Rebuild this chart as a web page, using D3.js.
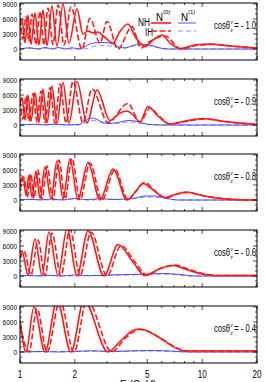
<!DOCTYPE html>
<html>
<head>
<meta charset="utf-8">
<script src="https://cdn.jsdelivr.net/npm/d3@7"></script>
<style>
  body { margin: 0; background: #fff; }
  text { font-family: "Liberation Sans Narrow", "Liberation Sans", sans-serif; fill: #000; }
</style>
</head>
<body>
<svg id="chart" width="266" height="382"></svg>
<script>
// cos(theta_z) of each panel
const cosLabels = ["- 1.0", "- 0.9", "- 0.8", "- 0.6", "- 0.4"];
const xTickLabels = [1, 2, 5, 10, 20];
const yTickLabels = [0, 3000, 6000, 9000];

// [E (GeV), events], panel by panel
// N(0) NH (red solid), N(0) IH (red dashed), N(1) NH (blue solid), N(1) IH (blue dashed)
const n0NH_10 = [[1.00,4500],[1.026,6000],[1.065,1200],[1.106,6800],[1.149,900],[1.209,7200],[1.271,800],[1.337,7800],[1.407,700],[1.498,8600],[1.596,600],[1.722,9000],[1.858,1200],[2.055,8000],[2.217,3000],[2.362,3600],[2.515,3200],[2.68,3400],[2.928,2300],[3.239,1200],[3.539,3500],[3.915,5000],[4.333,2200],[4.854,500],[5.37,1800],[6.017,2800],[6.657,1200],[7.553,100],[9.13,800],[11.04,1000],[14.21,600],[20,200]];
const n0IH_10 = [[1.00,6000],[1.039,2000],[1.079,6500],[1.12,1500],[1.164,7000],[1.224,900],[1.288,7500],[1.354,800],[1.424,8200],[1.517,900],[1.617,8800],[1.744,800],[1.905,8400],[2.189,0],[2.422,6100],[2.749,1200],[3.003,5500],[3.451,0],[4.119,4500],[4.615,200],[5.171,1500],[6.25,2600],[7.647,0],[9.25,700],[11.32,900],[14.58,600],[20,200]];
const n1NH_10 = [[1.00,0],[1.135,250],[1.255,0],[1.372,300],[1.498,0],[1.617,300],[1.766,0],[1.929,250],[2.135,0],[2.422,1000],[2.749,1300],[3.119,1200],[3.451,500],[3.77,200],[4.172,700],[4.557,1000],[5.171,800],[5.867,200],[6.491,0],[20,0]];
const n1IH_10 = [[1.00,0],[1.164,150],[1.288,0],[1.424,200],[1.556,0],[1.701,200],[1.881,0],[2.274,0],[2.58,600],[2.928,700],[3.322,400],[3.63,200],[4.172,600],[4.557,800],[5.171,600],[5.867,200],[6.491,0],[20,0]];

const n0NH_09 = [[1.00,4000],[1.026,5500],[1.065,1000],[1.106,6000],[1.149,700],[1.209,6500],[1.271,500],[1.337,7200],[1.407,400],[1.498,7800],[1.596,300],[1.722,8500],[1.858,400],[2.055,8700],[2.332,400],[2.646,7000],[3.119,900],[3.539,2400],[3.867,2800],[4.172,2000],[4.557,600],[5.041,3700],[5.648,2000],[6.657,200],[8.046,800],[10.1,1300],[13.34,700],[20,100]];
const n0IH_09 = [[1.00,5000],[1.039,1200],[1.079,5800],[1.12,800],[1.179,6300],[1.24,600],[1.304,6800],[1.372,500],[1.461,7500],[1.556,400],[1.658,8200],[1.789,400],[1.954,8700],[2.217,500],[2.484,7200],[3.041,500],[3.915,4300],[4.557,600],[5.171,3400],[5.72,2000],[6.657,200],[8.148,700],[10.36,1200],[13.34,700],[20,100]];
const n1NH_09 = [[1.00,0],[1.209,150],[1.372,0],[1.556,200],[1.766,0],[2.081,100],[2.245,600],[2.422,1400],[2.613,1200],[2.854,500],[3.119,300],[3.451,500],[3.915,900],[4.278,800],[4.674,400],[5.171,100],[6.25,0],[20,0]];
const n1IH_09 = [[1.00,0],[1.288,100],[1.461,0],[1.658,100],[2.081,0],[2.245,300],[2.422,900],[2.646,800],[2.928,300],[3.322,300],[3.915,600],[4.387,500],[5.041,100],[5.867,0],[20,0]];

const n0NH_08 = [[1.00,3000],[1.039,4800],[1.079,1000],[1.12,5000],[1.164,500],[1.224,5800],[1.288,300],[1.372,6600],[1.48,200],[1.596,7800],[1.722,200],[1.881,8200],[2.081,100],[2.362,7500],[2.749,0],[3.239,6200],[3.867,0],[4.278,1500],[4.733,3300],[5.303,2200],[6.25,500],[7.09,1100],[8.148,1600],[9.72,1000],[12.52,300],[18.3,0],[20,0]];
const n0IH_08 = [[1.00,2000],[1.052,4500],[1.092,500],[1.149,5200],[1.193,300],[1.255,6000],[1.32,200],[1.407,6800],[1.517,100],[1.637,8000],[1.766,200],[1.929,8300],[2.135,100],[2.422,7400],[2.818,0],[3.322,6100],[3.915,0],[4.333,1800],[4.854,3500],[5.439,2000],[6.33,400],[7.18,1100],[8.356,1500],[9.97,900],[12.84,300],[18.3,0],[20,0]];
const n1NH_08 = [[1.00,0],[1.135,150],[1.288,0],[1.461,200],[1.701,0],[2.004,300],[2.362,50],[2.749,300],[3.199,100],[3.77,200],[4.278,400],[4.854,800],[5.508,800],[6.25,400],[7.364,0],[20,0]];
const n1IH_08 = [[1.00,0],[1.209,100],[1.461,0],[2.004,200],[2.422,0],[2.928,200],[3.539,100],[4.278,300],[5.041,600],[5.867,500],[6.829,100],[8.046,0],[20,0]];

const n0NH_06 = [[1.00,4500],[1.026,5000],[1.106,200],[1.209,7400],[1.32,100],[1.443,8800],[1.617,100],[1.811,9500],[2.055,100],[2.362,9000],[2.891,0],[3.451,6300],[4.172,2800],[4.854,100],[5.867,1500],[6.915,2100],[8.046,1400],[9.72,500],[11.75,100],[20,100]];
const n0IH_06 = [[1.00,3500],[1.052,4900],[1.149,200],[1.255,7200],[1.372,100],[1.498,8600],[1.679,100],[1.881,9300],[2.135,100],[2.453,8800],[3.003,0],[3.584,6100],[4.278,2800],[4.977,200],[6.017,1600],[7.09,2200],[8.356,1400],[10.1,500],[12.21,100],[20,100]];
const n1NH_06 = [[1.00,0],[1.135,100],[1.288,0],[1.461,150],[1.658,0],[2.004,200],[2.422,50],[3.119,200],[4.016,300],[5.171,400],[6.25,500],[7.553,300],[9.13,0],[20,0]];
const n1IH_06 = [[1.00,0],[1.461,100],[1.881,0],[2.749,150],[4.016,200],[5.508,400],[6.829,300],[8.57,0],[20,0]];

const n0NH_04 = [[1.00,6500],[1.079,0],[1.193,9000],[1.372,0],[1.596,10300],[1.905,0],[2.245,10300],[3.041,0],[3.63,2500],[4.278,4500],[4.557,4600],[5.867,2800],[6.829,1200],[8.046,200],[11.04,200],[20,200]];
const n0IH_04 = [[1.00,5500],[1.12,0],[1.24,8700],[1.407,0],[1.658,10300],[1.979,0],[2.332,10300],[3.199,0],[3.77,2700],[4.557,4500],[6.017,2600],[7.0,1100],[8.25,200],[11.04,200],[20,200]];
const n1NH_04 = [[1.00,0],[1.288,100],[1.658,0],[2.422,250],[3.119,100],[4.016,200],[5.171,300],[6.657,200],[8.57,0],[20,0]];
const n1IH_04 = [[1.00,0],[2.422,150],[5.171,200],[8.57,0],[20,0]];

const panels = [
  { cos: cosLabels[0], nh0: n0NH_10, ih0: n0IH_10, nh1: n1NH_10, ih1: n1IH_10 },
  { cos: cosLabels[1], nh0: n0NH_09, ih0: n0IH_09, nh1: n1NH_09, ih1: n1IH_09 },
  { cos: cosLabels[2], nh0: n0NH_08, ih0: n0IH_08, nh1: n1NH_08, ih1: n1IH_08 },
  { cos: cosLabels[3], nh0: n0NH_06, ih0: n0IH_06, nh1: n1NH_06, ih1: n1IH_06 },
  { cos: cosLabels[4], nh0: n0NH_04, ih0: n0IH_04, nh1: n1NH_04, ih1: n1IH_04 },
];

const left = 20, right = 257, panelH = 57;
const panelTops = [3, 79, 154, 230, 306];

const svg = d3.select("#chart");
const x = d3.scaleLog().domain([1, 20]).range([left, right]);
const xMajor = [1, 2, 5, 10, 20];
const xMinor = [3, 4, 6, 7, 8, 9];

const RED = "#ff1a1a", BLUE = "#3a3aff", BLUE2 = "#8080ff";

// squeeze a text to a narrow width, like the condensed face of the original
function narrow(sel, perChar) {
  sel.each(function () {
    const n = this.textContent.length;
    d3.select(this).attr("textLength", n * perChar).attr("lengthAdjust", "spacingAndGlyphs");
  });
}

panels.forEach((p, i) => {
  const top = panelTops[i];
  const y = d3.scaleLinear().domain([-2200, 9200]).range([top + panelH, top]);
  const g = svg.append("g");

  g.append("clipPath").attr("id", "clip" + i)
    .append("rect").attr("x", left).attr("y", top).attr("width", right - left).attr("height", panelH);

  const line = d3.line().x(d => x(d[0])).y(d => y(d[1])).curve(d3.curveMonotoneX);
  const curves = g.append("g").attr("clip-path", `url(#clip${i})`).attr("fill", "none");

  curves.append("path").attr("d", line(p.ih1)).attr("stroke", BLUE2).attr("stroke-width", 0.9).attr("stroke-dasharray", "5,3");
  curves.append("path").attr("d", line(p.nh1)).attr("stroke", BLUE).attr("stroke-width", 0.9);
  curves.append("path").attr("d", line(p.ih0)).attr("stroke", RED).attr("stroke-width", 1.6).attr("stroke-dasharray", "6,2.5");
  curves.append("path").attr("d", line(p.nh0)).attr("stroke", RED).attr("stroke-width", 1.6);

  // frame
  g.append("rect").attr("x", left).attr("y", top).attr("width", right - left).attr("height", panelH)
    .attr("fill", "none").attr("stroke", "#000").attr("stroke-width", 1);

  // y ticks, both sides
  const yMinor = d3.range(-2000, 9001, 1000);
  yMinor.forEach(v => {
    const len = yTickLabels.includes(v) ? 4 : 2;
    g.append("line").attr("x1", left).attr("x2", left + len).attr("y1", y(v)).attr("y2", y(v)).attr("stroke", "#000").attr("stroke-width", 0.7);
    g.append("line").attr("x1", right).attr("x2", right - len).attr("y1", y(v)).attr("y2", y(v)).attr("stroke", "#000").attr("stroke-width", 0.7);
  });
  g.selectAll(".ylab").data(yTickLabels).join("text")
    .attr("x", left - 3).attr("y", d => y(d) + 3).attr("text-anchor", "end")
    .style("font-size", "8px").text(d => d)
    .call(narrow, 3.6);

  // x ticks, top and bottom
  xMajor.concat(xMinor).forEach(v => {
    const len = xMajor.includes(v) ? 4 : 2;
    g.append("line").attr("x1", x(v)).attr("x2", x(v)).attr("y1", top + panelH).attr("y2", top + panelH - len).attr("stroke", "#000").attr("stroke-width", 0.7);
    g.append("line").attr("x1", x(v)).attr("x2", x(v)).attr("y1", top).attr("y2", top + len).attr("stroke", "#000").attr("stroke-width", 0.7);
  });

  // cos label, one text: cos theta, stacked nu / z, then the value
  const lab = g.append("text").style("font-size", "10px");
  const s1 = lab.append("tspan").attr("x", 0).attr("y", 0).text("cosθ");
  const w1 = s1.node().getComputedTextLength();
  lab.append("tspan").attr("x", w1 + 0.6).attr("y", -5.5).style("font-size", "6px").text("ν");
  lab.append("tspan").attr("x", w1 + 0.6).attr("y", 2.5).style("font-size", "6px").text("z");
  const s3 = lab.append("tspan").attr("x", w1 + 5.5).attr("y", 0).text("= " + p.cos);
  const w3 = s3.node().getComputedTextLength();
  const sc = 42 / (w1 + 5.5 + w3);
  lab.attr("transform", `translate(214,${top + 26}) scale(${sc},1)`);
});

// bottom x tick labels
svg.selectAll(".xlab").data(xTickLabels).join("text")
  .attr("x", d => x(d)).attr("y", 378).attr("text-anchor", "middle")
  .style("font-size", "10px").text(d => d)
  .call(narrow, 4.5);
svg.append("text").attr("x", 138).attr("y", 388).attr("text-anchor", "middle")
  .style("font-size", "10px").text("E (GeV)");

// legend in the first panel
const lg = svg.append("g");
lg.append("text").attr("x", 138).attr("y", 26).style("font-size", "10px").text("NH").call(narrow, 6);
lg.append("text").attr("x", 145).attr("y", 36).style("font-size", "10px").text("IH").call(narrow, 4);
lg.append("text").attr("x", 156).attr("y", 21).style("font-size", "10px").text("N").call(narrow, 7);
lg.append("text").attr("x", 163).attr("y", 14).style("font-size", "6px").text("(0)");
lg.append("text").attr("x", 181).attr("y", 21).style("font-size", "10px").text("N").call(narrow, 7);
lg.append("text").attr("x", 188).attr("y", 14).style("font-size", "6px").text("(1)");
lg.append("line").attr("x1", 151).attr("x2", 171).attr("y1", 23).attr("y2", 23).attr("stroke", RED).attr("stroke-width", 1.6);
lg.append("line").attr("x1", 151).attr("x2", 171).attr("y1", 31).attr("y2", 31).attr("stroke", RED).attr("stroke-width", 1.6).attr("stroke-dasharray", "6,2.5");
lg.append("line").attr("x1", 178).attr("x2", 196).attr("y1", 23).attr("y2", 23).attr("stroke", BLUE).attr("stroke-width", 0.9);
lg.append("line").attr("x1", 178).attr("x2", 196).attr("y1", 31).attr("y2", 31).attr("stroke", BLUE2).attr("stroke-width", 0.9).attr("stroke-dasharray", "5,3");
</script>
</body>
</html>
